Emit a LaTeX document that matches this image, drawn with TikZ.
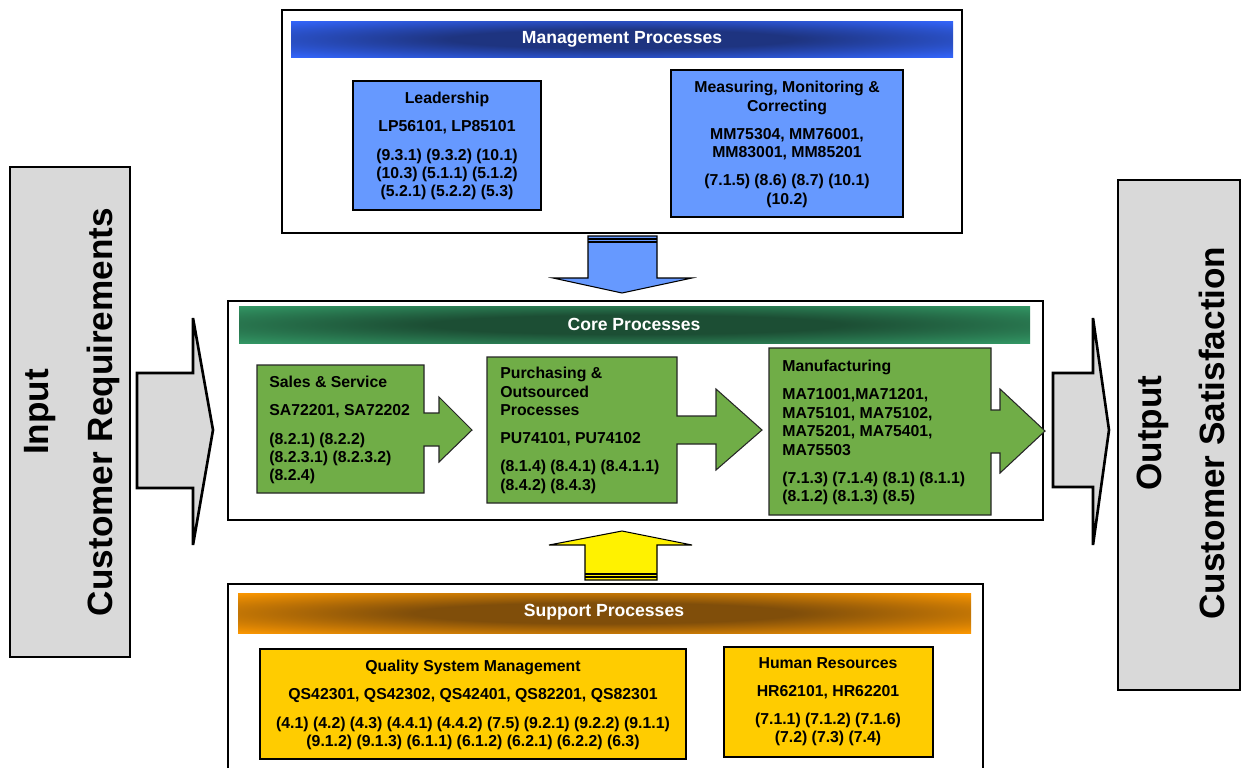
\documentclass[tikz,border=0pt]{standalone}
\usepackage{fontspec}
\setmainfont{Liberation Sans}
\usetikzlibrary{positioning}

\definecolor{mgbase}{RGB}{51,102,255}
\definecolor{mgdark}{RGB}{30,52,128}
\definecolor{cobase}{RGB}{51,153,102}
\definecolor{codark}{RGB}{28,78,52}
\definecolor{spbase}{RGB}{255,153,0}
\definecolor{spdark}{RGB}{128,78,10}
\definecolor{mgbox}{RGB}{102,153,255}
\definecolor{cobox}{RGB}{112,173,71}
\definecolor{spbox}{RGB}{255,204,0}
\definecolor{iogray}{RGB}{217,217,217}

% header bars: dark in the middle, base colour at the ends
\pgfdeclareradialshading{mgbar}{\pgfpoint{0bp}{0bp}}{color(0bp)=(mgdark); color(13bp)=(mgdark); color(36bp)=(mgbase); color(50bp)=(mgbase)}
\pgfdeclareradialshading{cobar}{\pgfpoint{0bp}{0bp}}{color(0bp)=(codark); color(13bp)=(codark); color(36bp)=(cobase); color(50bp)=(cobase)}
\pgfdeclareradialshading{spbar}{\pgfpoint{0bp}{0bp}}{color(0bp)=(spdark); color(13bp)=(spdark); color(36bp)=(spbase); color(50bp)=(spbase)}

\begin{document}
\begin{tikzpicture}[x=0.02cm, y=-0.02cm,
    panel/.style={draw=black, line width=0.6pt, fill=white},
    bartext/.style={text=white, font=\bfseries\fontsize{10}{12}\selectfont},
    boxtext/.style={inner sep=0pt, font=\bfseries\fontsize{9}{10.5}\selectfont},
    mgfill/.style={draw=black, line width=0.6pt, fill=mgbox},
    cofill/.style={draw=black!85, line width=0.6pt, fill=cobox},
    spfill/.style={draw=black, line width=0.6pt, fill=spbox},
    iofill/.style={draw=black, line width=1.5pt, fill=iogray},
    iotext/.style={rotate=90, align=center, font=\bfseries\fontsize{20}{24}\selectfont}
]
\useasboundingbox (0,0) rectangle (1246,768);

% input
\draw[iofill] (10,167) rectangle (130,657);
\node[iotext] (input) at (72,412) {Input\\[12pt]Customer Requirements};
\draw[iofill] (137,373) -- (193,373) -- (193,318) -- (213,430) -- (193,545) -- (193,488) -- (137,488) -- cycle;

% management
\draw[panel] (282,10) rectangle (962,233);
\shade[shading=mgbar] (291,21) rectangle (953,57);
\node[bartext] (mgmt) at (622,39) {Management Processes};
\draw[mgfill] (353,81) rectangle (541,210);
\node[boxtext, align=center, anchor=north] (lead) at (447,92) {Leadership\\[5.5pt]LP56101, LP85101\\[5.5pt](9.3.1) (9.3.2) (10.1)\\(10.3) (5.1.1) (5.1.2)\\(5.2.1) (5.2.2) (5.3)};
\draw[mgfill] (671,70) rectangle (903,217);
\node[boxtext, align=center, anchor=north] (meas) at (787,81) {Measuring, Monitoring \&\\Correcting\\[5.5pt]MM75304, MM76001,\\MM83001, MM85201\\[5.5pt](7.1.5) (8.6) (8.7) (10.1)\\(10.2)};

% down arrow
\draw[mgfill] (588,236) -- (657,236) -- (657,278) -- (692,278) -- (622,293) -- (553,278) -- (588,278) -- cycle;
\foreach \sy in {239,242}
  \draw[line width=0.6pt] (588,\sy) -- (657,\sy);

% core
\draw[panel] (228,301) rectangle (1043,520);
\shade[shading=cobar] (239,306) rectangle (1030,343);
\node[bartext] (core) at (634,324) {Core Processes};
\draw[cofill] (257,365) -- (424,365) -- (424,413) -- (439,413) -- (439,397) -- (472,430) -- (439,462) -- (439,446) -- (424,446) -- (424,493) -- (257,493) -- cycle;
\node[boxtext, align=left, anchor=north west] (sales) at (269,376) {Sales \& Service\\[5.5pt]SA72201, SA72202\\[5.5pt](8.2.1) (8.2.2)\\(8.2.3.1) (8.2.3.2)\\(8.2.4)};
\draw[cofill] (487,357) -- (677,357) -- (677,416) -- (716,416) -- (716,389) -- (762,430) -- (716,470) -- (716,444) -- (677,444) -- (677,503) -- (487,503) -- cycle;
\node[boxtext, align=left, anchor=north west] (purch) at (500,367) {Purchasing \&\\Outsourced\\Processes\\[5.5pt]PU74101, PU74102\\[5.5pt](8.1.4) (8.4.1) (8.4.1.1)\\(8.4.2) (8.4.3)};
\draw[cofill] (769,348) -- (991,348) -- (991,410) -- (1000,410) -- (1000,389) -- (1045,431) -- (1000,473) -- (1000,453) -- (991,453) -- (991,515) -- (769,515) -- cycle;
\node[boxtext, align=left, anchor=north west] (manu) at (782,360) {Manufacturing\\[5.5pt]MA71001,MA71201,\\MA75101, MA75102,\\MA75201, MA75401,\\MA75503\\[5.5pt](7.1.3) (7.1.4) (8.1) (8.1.1)\\(8.1.2) (8.1.3) (8.5)};

% up arrow
\draw[line width=0.6pt, fill=yellow] (585,580) -- (657,580) -- (657,545) -- (692,545) -- (622,531) -- (549,545) -- (585,545) -- cycle;
\foreach \sy in {574,577}
  \draw[line width=0.6pt] (585,\sy) -- (657,\sy);

% support
\fill[white] (228,584) rectangle (983,768);
\draw[line width=0.6pt] (228,768) -- (228,584) -- (983,584) -- (983,768);
\shade[shading=spbar] (238,593) rectangle (971,633);
\node[bartext] (supp) at (604,612) {Support Processes};
\draw[spfill] (260,649) rectangle (686,759);
\node[boxtext, align=center, anchor=north] (qsm) at (473,660) {Quality System Management\\[5.5pt]QS42301, QS42302, QS42401, QS82201, QS82301\\[5.5pt](4.1) (4.2) (4.3) (4.4.1) (4.4.2) (7.5) (9.2.1) (9.2.2) (9.1.1)\\(9.1.2) (9.1.3) (6.1.1) (6.1.2) (6.2.1) (6.2.2) (6.3)};
\draw[spfill] (724,647) rectangle (933,757);
\node[boxtext, align=center, anchor=north] (hr) at (828,657) {Human Resources\\[5.5pt]HR62101, HR62201\\[5.5pt](7.1.1) (7.1.2) (7.1.6)\\(7.2) (7.3) (7.4)};

% output
\draw[iofill] (1053,373) -- (1093,373) -- (1093,318) -- (1109,430) -- (1093,545) -- (1093,487) -- (1053,487) -- cycle;
\draw[iofill] (1118,180) rectangle (1240,690);
\node[iotext] (output) at (1181,433) {Output\\[12pt]Customer Satisfaction};
\end{tikzpicture}
\end{document}
